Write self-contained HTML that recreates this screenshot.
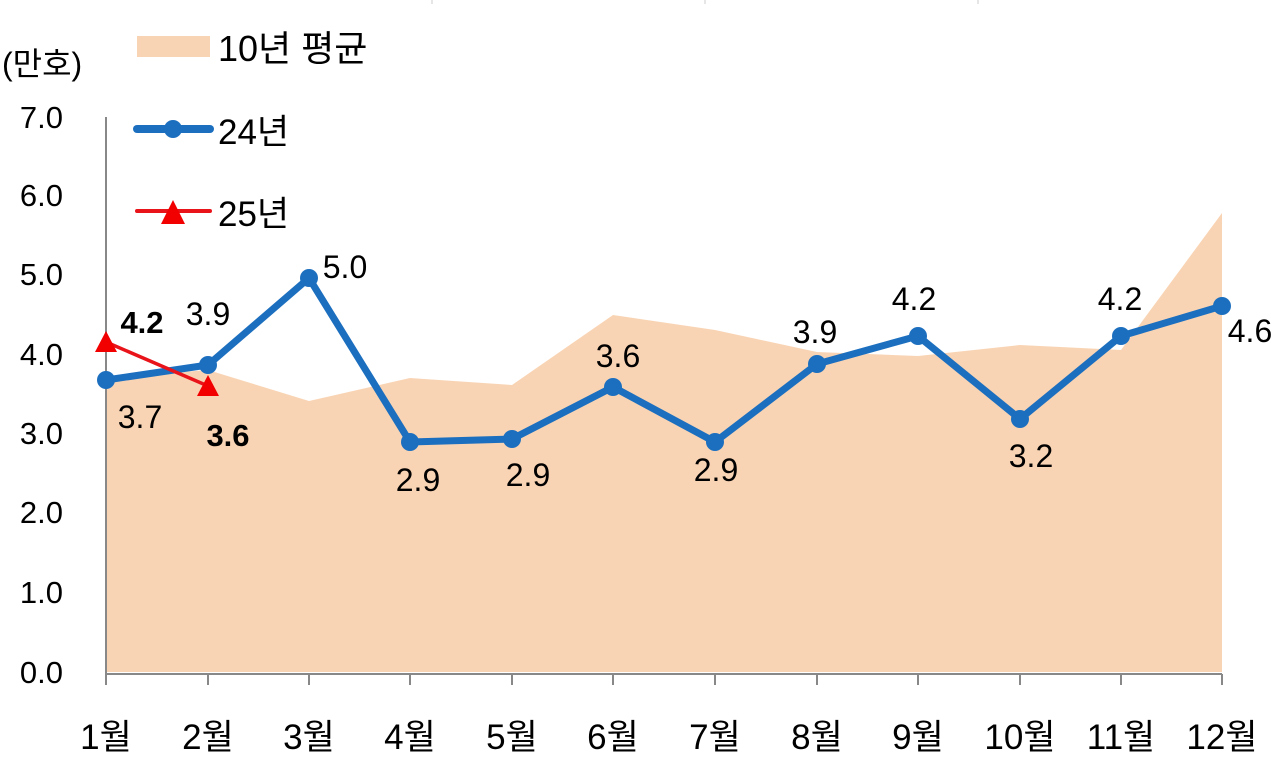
<!DOCTYPE html>
<html><head><meta charset="utf-8"><style>
html,body{margin:0;padding:0;background:#fff;}
svg{display:block;}
text{font-family:"Liberation Sans","Noto Sans CJK KR",sans-serif;fill:#000;}
</style></head><body>
<svg width="1280" height="769" viewBox="0 0 1280 769" xmlns="http://www.w3.org/2000/svg">
<g stroke="#ccc" stroke-width="1"><line x1="432" y1="0" x2="432" y2="4"/><line x1="705" y1="0" x2="705" y2="4"/><line x1="978" y1="0" x2="978" y2="4"/></g>
<polygon fill="#f9d4b4" points="106,672 106,378 208,370 309,401 410,378 512,385 613,315 715,330 817,352 918,356 1020,345 1121,350 1222,213 1222,672"/>
<line x1="106" y1="117" x2="106" y2="674" stroke="#888" stroke-width="2"/>
<line x1="106" y1="674" x2="1222" y2="674" stroke="#888" stroke-width="2"/>
<g stroke="#888" stroke-width="2">
<line x1="106" y1="674" x2="106" y2="685"/><line x1="208" y1="674" x2="208" y2="685"/><line x1="309" y1="674" x2="309" y2="685"/><line x1="410" y1="674" x2="410" y2="685"/><line x1="512" y1="674" x2="512" y2="685"/><line x1="613" y1="674" x2="613" y2="685"/><line x1="715" y1="674" x2="715" y2="685"/><line x1="817" y1="674" x2="817" y2="685"/><line x1="918" y1="674" x2="918" y2="685"/><line x1="1020" y1="674" x2="1020" y2="685"/><line x1="1121" y1="674" x2="1121" y2="685"/><line x1="1222" y1="674" x2="1222" y2="685"/>
</g>
<g font-size="31" text-anchor="end">
<text x="63" y="128">7.0</text><text x="63" y="206">6.0</text><text x="63" y="285">5.0</text><text x="63" y="365">4.0</text><text x="63" y="444">3.0</text><text x="63" y="523">2.0</text><text x="63" y="603">1.0</text><text x="63" y="683">0.0</text>
</g>
<text x="2" y="75" font-size="32">(만호)</text>
<g font-size="35" text-anchor="middle">
<text x="106" y="749">1월</text><text x="208" y="749">2월</text><text x="309" y="749">3월</text><text x="410" y="749">4월</text><text x="512" y="749">5월</text><text x="613" y="749">6월</text><text x="715" y="749">7월</text><text x="817" y="749">8월</text><text x="918" y="749">9월</text><text x="1020" y="749">10월</text><text x="1121" y="749">11월</text><text x="1222" y="749">12월</text>
</g>
<polyline fill="none" stroke="#1c6fbf" stroke-width="7" stroke-linejoin="round" points="106,380 208,365 309,278 410,442 512,439 613,387 715,442 817,364 918,336 1020,419 1121,336 1222,306"/>
<g fill="#1c6fbf">
<circle cx="106" cy="380" r="9"/><circle cx="208" cy="365" r="9"/><circle cx="309" cy="278" r="9"/><circle cx="410" cy="442" r="9"/><circle cx="512" cy="439" r="9"/><circle cx="613" cy="387" r="9"/><circle cx="715" cy="442" r="9"/><circle cx="817" cy="364" r="9"/><circle cx="918" cy="336" r="9"/><circle cx="1020" cy="419" r="9"/><circle cx="1121" cy="336" r="9"/><circle cx="1222" cy="306" r="9"/>
</g>
<line x1="106" y1="342" x2="208" y2="386" stroke="#e8141a" stroke-width="3.5"/>
<polygon fill="#f20000" points="106,331 95,352 117,352"/>
<polygon fill="#f20000" points="208,375 197,396 219,396"/>
<g font-size="32" text-anchor="middle">
<text x="140" y="428">3.7</text><text x="208" y="325">3.9</text><text x="345" y="278">5.0</text><text x="418" y="491">2.9</text><text x="528" y="486">2.9</text><text x="618" y="367">3.6</text><text x="716" y="481">2.9</text><text x="815" y="343">3.9</text><text x="914" y="310">4.2</text><text x="1031" y="467">3.2</text><text x="1120" y="310">4.2</text><text x="1250" y="342">4.6</text>
</g>
<g font-size="31" text-anchor="middle" font-weight="bold">
<text x="142" y="333">4.2</text><text x="228" y="446">3.6</text>
</g>
<rect x="137" y="36" width="73" height="21" fill="#f9d4b4"/>
<text x="218" y="61" font-size="36">10년 평균</text>
<line x1="137" y1="129" x2="210" y2="129" stroke="#1c6fbf" stroke-width="8" stroke-linecap="round"/>
<circle cx="173" cy="129" r="9" fill="#1c6fbf"/>
<text x="218" y="144" font-size="35">24년</text>
<line x1="137" y1="211" x2="210" y2="211" stroke="#e8141a" stroke-width="4" stroke-linecap="round"/>
<polygon fill="#f20000" points="173,200 161,224 185,224"/>
<text x="218" y="226" font-size="35">25년</text>
</svg>
</body></html>
